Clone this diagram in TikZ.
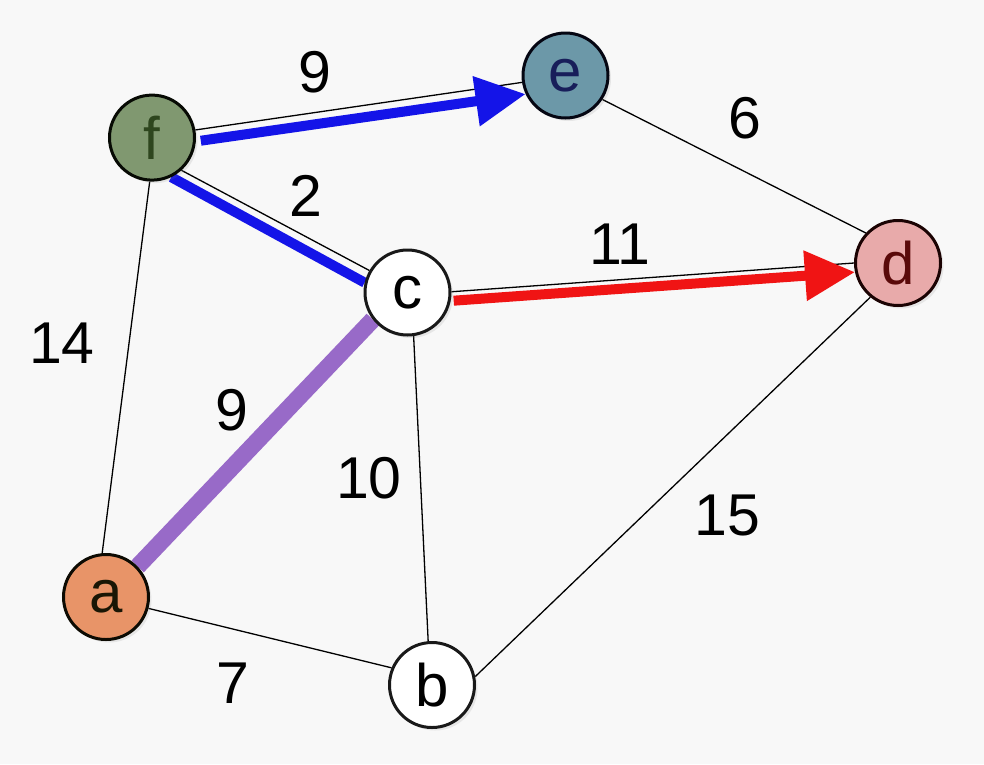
\documentclass[tikz,border=0pt]{standalone}
\usepackage{fontspec}
\setmainfont{Liberation Sans}
\usetikzlibrary{arrows.meta,shadows,backgrounds}
\definecolor{bgc}{RGB}{248,248,248}
\definecolor{ffill}{RGB}{128,152,112}
\definecolor{ftext}{RGB}{46,70,30}
\definecolor{efill}{RGB}{108,152,168}
\definecolor{etext}{RGB}{24,30,90}
\definecolor{dfill}{RGB}{232,170,170}
\definecolor{dtext}{RGB}{90,10,10}
\definecolor{afill}{RGB}{232,148,104}
\definecolor{atext}{RGB}{85,72,18}
\definecolor{treeblue}{RGB}{20,20,232}
\definecolor{treered}{RGB}{240,20,20}
\definecolor{treepurple}{RGB}{152,106,200}
\begin{document}
\begin{tikzpicture}[x=1pt,y=-1pt,
  vtx/.style={circle, draw=black!90, line width=3pt, minimum size=85pt, inner sep=0pt,
    font=\fontsize{60}{60}\selectfont,
    drop shadow={opacity=0.15, shadow xshift=3pt, shadow yshift=-3pt}},
  thinedge/.style={line width=1.3pt, draw=black},
  wt/.style={font=\fontsize{59}{59}\selectfont, inner sep=0pt},
  treeedge/.style={line width=10pt},
  arr/.style={-{Triangle[length=50pt,width=48pt]}}]
\useasboundingbox (0,0) rectangle (984,764);
\begin{scope}[on background layer]
  \fill[bgc] (0,0) rectangle (984,764);
\end{scope}

\node[vtx, fill=ffill, text=ftext, draw=black!85!ftext] (f) at (152,137.6) {f};
\node[vtx, fill=efill, text=etext, draw=black!80!etext] (e) at (565.5,75.5) {e};
\node[vtx, fill=white, text=black] (c) at (407.5,292.5) {c};
\node[vtx, fill=dfill, text=dtext, draw=black!70!dtext] (d) at (898,263) {d};
\node[vtx, fill=afill, text=black!70!atext, draw=black!85!atext] (a) at (106,597) {a};
\node[vtx, fill=white, text=black] (b) at (432,685) {b};

\begin{scope}[on background layer]
  % thin edges
  \draw[thinedge] (f.10) -- (e.189);
  \draw[thinedge] (f.-48) -- (c.150);
  \draw[thinedge] (c.1) -- (d.180);
  \draw[thinedge] (f.267.5) -- (a.95);
  \draw[thinedge] (c.-82) -- (b.95);
  \draw[thinedge] (a.-15) -- (b.157);
  \draw[thinedge] (b.11.5) -- (d.231);
  \draw[thinedge] (e.-33) -- (d.137);
  % highlighted edges
  \draw[treeedge, treeblue, arr, shorten <=5pt] (f.-5) -- (e.205.7);
  \draw[treeedge, treeblue] (f.-64.7) -- (c.167);
  \draw[treeedge, treered, arr, shorten <=3pt] (c.-11) -- (d.192.5);
  \draw[line width=17pt, treepurple] (c.218) -- (a.44);
\end{scope}

% weights
\node[wt] (w1) at (315,72) {9};
\node[wt] (w2) at (306,196) {2};
\node[wt] (w3) at (745,118) {6};
\node[wt] (w4) at (620,244) {11};
\node[wt] (w5) at (62,343) {14};
\node[wt] (w6) at (232,410) {9};
\node[wt] (w7) at (369,478) {10};
\node[wt] (w8) at (727,515) {15};
\node[wt] (w9) at (233,683) {7};
\end{tikzpicture}
\end{document}
